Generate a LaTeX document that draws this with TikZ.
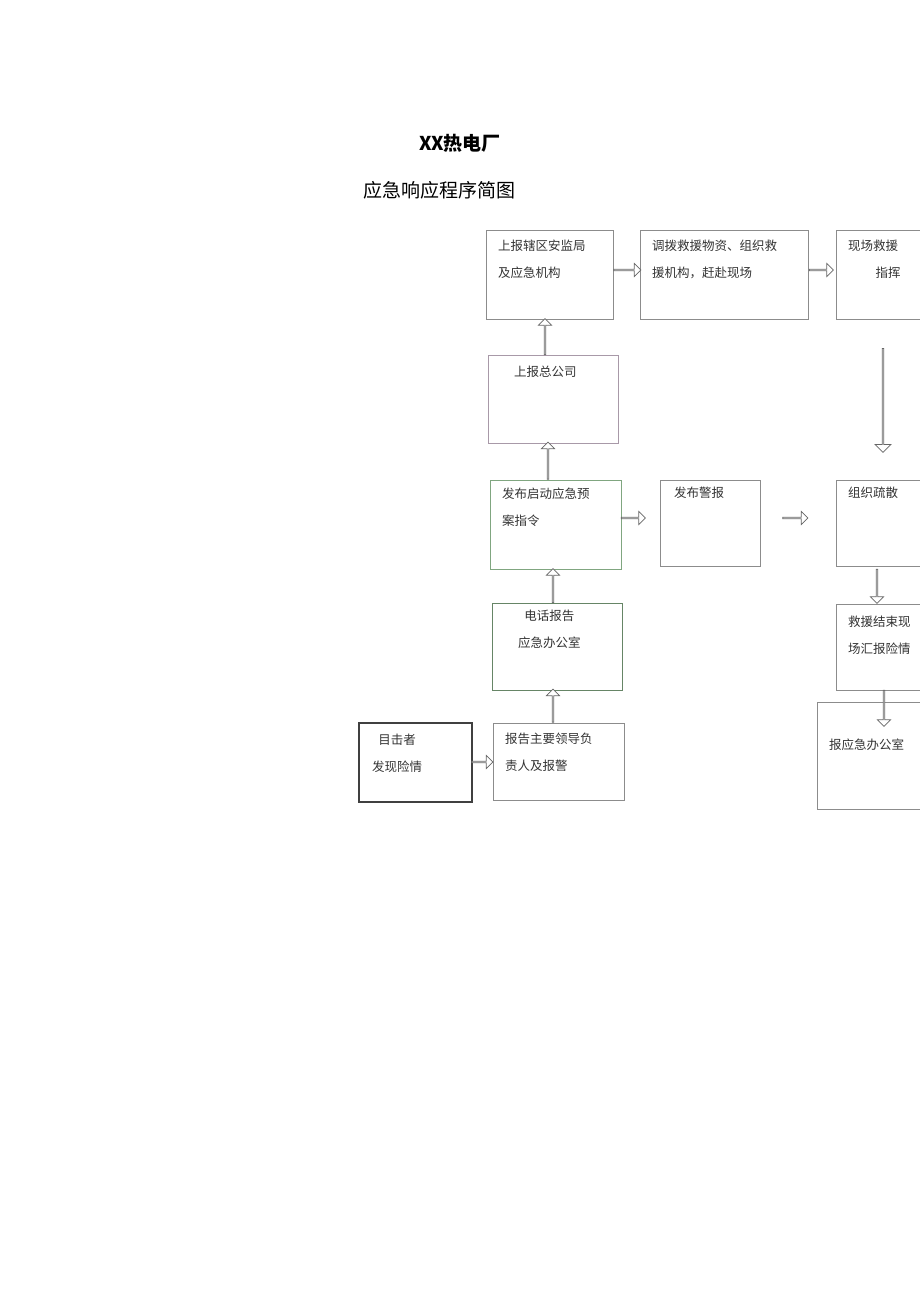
\documentclass[tikz,border=0pt]{standalone}
\usepackage{fontspec}
\newfontfamily\cjk{Noto Sans CJK SC}
\usetikzlibrary{shapes.arrows}
\begin{document}
\begin{tikzpicture}[x=1pt,y=-1pt,
  bx/.style={draw=black!45,line width=0.9pt},
  tx/.style={anchor=north west,align=left,inner sep=0pt,font=\cjk\fontsize{12.5}{27}\selectfont,text=black!80},
  ha/.style={single arrow,draw=black!60,fill=white,line width=0.7pt,inner sep=0pt,
    minimum width=13pt,single arrow head extend=3pt,single arrow head indent=0pt}]
\useasboundingbox (0,0) rectangle (920,1301);
\node[anchor=center,font=\cjk\bfseries\fontsize{19}{22}\selectfont] (t1) at (460,143) {XX热电厂};
\node[anchor=west,font=\cjk\fontsize{19}{22}\selectfont] (t2) at (360,190) {应急响应程序简图};
% boxes
\draw[bx] (486,230) rectangle (613,319);
\draw[bx] (640,230) rectangle (808,319);
\draw[bx] (836,230) rectangle (925,319);
\draw[bx,draw=violet!30!black!40] (488,355) rectangle (618,443);
\draw[bx,draw=green!30!black!50] (490,480) rectangle (621,569);
\draw[bx] (660,480) rectangle (760,566);
\draw[bx] (836,480) rectangle (925,566);
\draw[bx,draw=green!20!black!60] (492,603) rectangle (622,690);
\draw[bx] (836,604) rectangle (925,690);
\draw[line width=1.6pt,draw=black!75] (359,723) rectangle (472,802);
\draw[bx] (493,723) rectangle (624,800);
\draw[bx] (817,702) rectangle (925,809);
% texts
\node[tx] (a) at (498,240) {上报辖区安监局\\及应急机构};
\node[tx] (b) at (652,240) {调拨救援物资、组织救\\援机构，赶赴现场};
\node[tx] (c) at (848,240) {现场救援\\\hspace*{2.2em}指挥};
\node[tx] (d) at (514,366) {上报总公司};
\node[tx] (e) at (502,488) {发布启动应急预\\案指令};
\node[tx] (f) at (674,487) {发布警报};
\node[tx] (g) at (848,487) {组织疏散};
\node[tx,align=center] (h) at (518,610) {电话报告\\应急办公室};
\node[tx] (i) at (848,616) {救援结束现\\场汇报险情};
\node[tx,align=center] (j) at (372,734) {目击者\\发现险情};
\node[tx] (k) at (505,733) {报告主要领导负\\责人及报警};
\node[tx] (l) at (829,739) {报应急办公室};
% arrows
\node[ha,minimum height=27pt] (r1) at (627,270) {};
\node[ha,minimum height=24pt] (r2) at (821,270) {};
\node[ha,minimum height=24pt] (r3) at (633,518) {};
\node[ha,minimum height=25pt] (r4) at (795,518) {};
\node[ha,minimum height=21pt] (r5) at (482,762) {};
\node[ha,minimum height=36pt,shape border rotate=90] (u1) at (545,337) {};
\node[ha,minimum height=37pt,shape border rotate=90] (u2) at (548,461) {};
\node[ha,minimum height=34pt,shape border rotate=90] (u3) at (553,586) {};
\node[ha,minimum height=33pt,shape border rotate=90] (u4) at (553,706) {};
\node[ha,minimum height=104pt,minimum width=16pt,shape border rotate=270] (d1) at (883,400) {};
\node[ha,minimum height=34pt,shape border rotate=270] (d2) at (877,586) {};
\node[ha,minimum height=36pt,shape border rotate=270] (d3) at (884,708) {};
\end{tikzpicture}
\end{document}
